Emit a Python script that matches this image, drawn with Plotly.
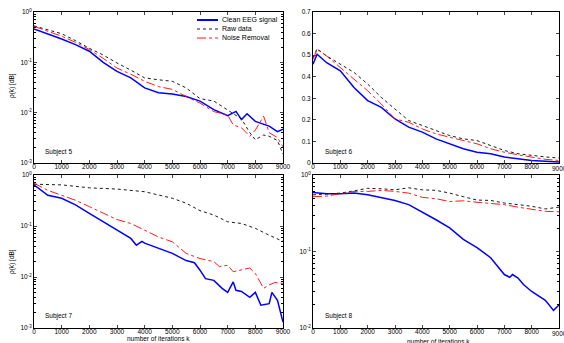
import plotly.graph_objects as go

# ---------------- data ----------------
# Subject 5 (log)
x5b = [0,500,1000,1500,2000,2500,3000,3500,4000,4500,5000,5500,6000,6500,7000,7300,7500,7700,8000,8500,8800,9000]
b5 = [0.46,0.37,0.29,0.225,0.166,0.1,0.066,0.049,0.031,0.025,0.0234,0.021,0.017,0.0115,0.0087,0.0106,0.0073,0.0095,0.0067,0.0054,0.0042,0.0047]
x5r = [0,500,1000,1500,2000,2500,3000,3500,4000,4500,5000,5500,6000,6500,7000,7500,7800,8000,8300,8500,8800,9000]
r5 = [0.53,0.45,0.37,0.27,0.19,0.14,0.097,0.07,0.049,0.045,0.042,0.031,0.019,0.017,0.0115,0.0075,0.004,0.0029,0.0036,0.0034,0.0028,0.0015]
x5n = [0,500,1000,1500,2000,2500,3000,3500,4000,4500,5000,5500,6000,6500,7000,7200,7500,7800,8000,8300,8500,8800,9000]
n5 = [0.52,0.42,0.33,0.25,0.18,0.12,0.077,0.058,0.042,0.033,0.029,0.021,0.0155,0.0105,0.009,0.0057,0.005,0.0034,0.0045,0.0085,0.004,0.0032,0.0021]

# Subject 6 (linear)
x6 = [0,150,500,1000,1500,2000,2500,3000,3500,4000,4500,5000,5500,6000,6500,7000,7500,8000,8500,9000]
b6 = [0.458,0.504,0.465,0.427,0.35,0.289,0.258,0.204,0.166,0.143,0.112,0.089,0.066,0.05,0.043,0.028,0.02,0.012,0.008,0.005]
r6 = [0.488,0.53,0.496,0.458,0.42,0.366,0.304,0.25,0.197,0.174,0.15,0.127,0.112,0.104,0.081,0.058,0.043,0.035,0.028,0.023]
n6 = [0.48,0.527,0.496,0.442,0.389,0.335,0.273,0.204,0.189,0.158,0.135,0.12,0.104,0.089,0.066,0.05,0.038,0.028,0.017,0.012]

# Subject 7 (log)
x7b = [0,500,1000,1500,2000,2500,3000,3500,3700,3900,4000,4500,5000,5500,5800,6000,6200,6500,6800,7000,7200,7300,7500,7800,8000,8200,8500,8600,8800,9000]
b7 = [0.64,0.40,0.35,0.26,0.176,0.121,0.083,0.057,0.042,0.05,0.046,0.036,0.029,0.021,0.019,0.0136,0.0093,0.0086,0.006,0.005,0.008,0.0055,0.0052,0.004,0.005,0.0028,0.003,0.005,0.0035,0.0013]
x7n = [0,500,1000,1500,2000,2500,3000,3500,4000,4500,5000,5500,6000,6500,6700,7000,7200,7500,7800,8000,8300,8500,8700,9000]
n7 = [0.69,0.5,0.4,0.32,0.24,0.176,0.134,0.112,0.083,0.061,0.049,0.029,0.023,0.02,0.016,0.017,0.0127,0.0137,0.015,0.0117,0.006,0.007,0.0078,0.0075]
x7r = [0,1000,2000,3000,4000,5000,5500,6000,6500,7000,7500,8000,8500,9000]
r7 = [0.66,0.64,0.56,0.53,0.47,0.35,0.28,0.2,0.164,0.121,0.112,0.09,0.066,0.05]

# Subject 8 (log)
x8 = [0,500,1000,1500,2000,2500,3000,3500,4000,4500,5000,5500,6000,6500,7000,7500,8000,8500,9000]
r8 = [0.55,0.57,0.58,0.62,0.67,0.66,0.64,0.68,0.64,0.63,0.58,0.52,0.47,0.465,0.43,0.41,0.39,0.36,0.38]
n8 = [0.52,0.53,0.57,0.61,0.61,0.63,0.61,0.58,0.51,0.49,0.45,0.46,0.44,0.42,0.41,0.38,0.36,0.335,0.33]
x8b = [0,500,1000,1500,2000,2500,3000,3500,4000,4500,5000,5500,6000,6500,7000,7200,7300,7500,7700,8000,8500,8800,9000]
b8 = [0.59,0.57,0.57,0.58,0.55,0.51,0.465,0.41,0.33,0.26,0.204,0.144,0.112,0.083,0.05,0.046,0.05,0.045,0.037,0.030,0.023,0.017,0.02]

x_ticks = [0,1000,2000,3000,4000,5000,6000,7000,8000,9000]
log_tickvals = [1, 0.1, 0.01, 0.001]
log_ticktext = ["10<sup>0</sup>", "10<sup>-1</sup>", "10<sup>-2</sup>", "10<sup>-3</sup>"]
lin_ticks = [0, 0.1, 0.2, 0.3, 0.4, 0.5, 0.6, 0.7]
subjects = ["Subject 5", "Subject 6", "Subject 7", "Subject 8"]
names = ["Clean EEG signal", "Raw data", "Noise Removal"]

W, H = 564, 343
def px(v): return v / W
def py(v): return 1 - v / H

fig = go.Figure()

BLUE = dict(color="#0000ff", width=1.5, dash="solid")
BLACK = dict(color="#000000", width=0.9, dash="dot")
RED = dict(color="#ff0000", width=0.9, dash="dashdot")
styles = [BLUE, BLACK, RED]

panels = [
    ((x5b, b5), (x5r, r5), (x5n, n5)),
    ((x6, b6), (x6, r6), (x6, n6)),
    ((x7b, b7), (x7r, r7), (x7n, n7)),
    ((x8b, b8), (x8, r8), (x8, n8)),
]
for i, curves in enumerate(panels):
    ax = "" if i == 0 else str(i + 1)
    for (xs, ys), st, nm in zip(curves, styles, names):
        fig.add_trace(go.Scatter(x=xs, y=ys, mode="lines", line=st, name=nm,
                                 showlegend=False, xaxis="x" + ax, yaxis="y" + ax))

FONT = "Liberation Sans, Arial, sans-serif"
tickfont = dict(family=FONT, size=6.5, color="#000")
minor_vals = [m * 10.0 ** e for e in (-3, -2, -1) for m in range(2, 10)]
common_x = dict(range=[0, 9000], tickvals=x_ticks, ticks="inside", ticklen=3,
                showline=True, linecolor="#000", linewidth=1, mirror="ticks",
                showgrid=False, zeroline=False, tickfont=tickfont,
                ticklabelstandoff=-3, automargin=False)
common_ylog = dict(type="log", tickvals=log_tickvals, ticktext=log_ticktext,
                   ticks="inside", ticklen=3, showline=True,
                   linecolor="#000", linewidth=1, mirror="ticks", showgrid=False,
                   zeroline=False, tickfont=tickfont, automargin=False,
                   minor=dict(tickvals=minor_vals, ticks="inside", ticklen=2,
                              tickcolor="#000", showgrid=False))

dom_x = [[px(34), px(283)], [px(313), px(559)]]
dom_y = [[py(163), py(12)], [py(328), py(175)]]

layout = dict(width=W, height=H, autosize=False, margin=dict(l=0, r=0, t=0, b=0, pad=0),
              paper_bgcolor="white", plot_bgcolor="white", showlegend=False)

for i in range(4):
    r, c = divmod(i, 2)
    ax = "" if i == 0 else str(i + 1)
    xa = dict(common_x, domain=dom_x[c], anchor="y" + ax)
    if i == 1:
        ya = dict(range=[0, 0.7], tickvals=lin_ticks, ticks="inside", ticklen=3,
                  showline=True, linecolor="#000", linewidth=1, mirror="ticks",
                  showgrid=False, zeroline=False, tickfont=tickfont, tickformat=".1~f",
                  automargin=False)
    elif i == 3:
        ya = dict(common_ylog, range=[-2, 0])
    else:
        ya = dict(common_ylog, range=[-3, 0])
    ya.update(domain=dom_y[r], anchor="x" + ax)
    layout["xaxis" + ax] = xa
    layout["yaxis" + ax] = ya

fig.update_layout(**layout)

ann_font = dict(family=FONT, size=6.5, color="#000")

# legend (top-left panel)
leg_rows = [20, 29, 38]
for nm, st, yy in zip(names, styles, leg_rows):
    fig.add_shape(type="line", xref="paper", yref="paper",
                  x0=px(197), x1=px(218), y0=py(yy), y1=py(yy),
                  line=dict(color=st["color"], width=st["width"] + (0.5 if st is BLUE else 0),
                            dash=st["dash"]))
    fig.add_annotation(x=px(220), y=py(yy), xref="paper", yref="paper", text=nm,
                       showarrow=False, xanchor="left", yanchor="middle",
                       font=dict(family=FONT, size=7, color="#000"))

sub_pos = [(43, 152), (323, 152), (43, 316), (323, 316)]
for s, (ax_, ay_) in zip(subjects, sub_pos):
    fig.add_annotation(x=px(ax_), y=py(ay_), xref="paper", yref="paper", text=s,
                       showarrow=False, xanchor="left", yanchor="middle", font=ann_font)

# last x tick label of the right-hand panels runs off the page edge (as in the source)
for ax_name, yy in [("x2", 168), ("x4", 333)]:
    fig.add_annotation(x=x_ticks[-1], xref=ax_name, y=py(yy), yref="paper",
                       text=str(x_ticks[-1]), showarrow=False, xanchor="center",
                       yanchor="middle", font=ann_font)

for yc in [86, 262]:
    fig.add_annotation(x=px(12), y=py(yc), xref="paper", yref="paper", text="ρ(k) [dB]",
                       textangle=-90, showarrow=False, xanchor="center", yanchor="middle",
                       font=ann_font)

for xc, yc in [(158, 338), (438, 341)]:
    fig.add_annotation(x=px(xc), y=py(yc), xref="paper", yref="paper",
                       text="number of iterations k", showarrow=False,
                       xanchor="center", yanchor="middle", font=ann_font)

css = ("var s=document.createElement('style');"
       "s.textContent='html,body{margin:0;padding:0;overflow:hidden;}';"
       "document.head.appendChild(s);")
fig.write_html("out.html", config={"displayModeBar": False, "responsive": False},
               post_script=css)
